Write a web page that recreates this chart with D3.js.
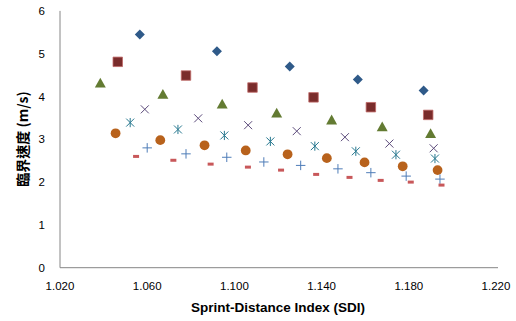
<!DOCTYPE html>
<html><head><meta charset="utf-8">
<script src="https://cdn.jsdelivr.net/npm/d3@7"></script>
<style>body{margin:0;background:#fff}svg{display:block}</style>
</head><body>
<svg id="c" width="516" height="321"></svg>
<script>
// ---- data ----
const xTicks = [1.020, 1.060, 1.100, 1.140, 1.180, 1.220];
const yTicks = [0, 1, 2, 3, 4, 5, 6];
const xLabel = "Sprint-Distance Index (SDI)";
const yLabel = "臨界速度 (m/s)";

const diamondSDI = [1.0566, 1.0920, 1.1254, 1.1566, 1.1868];
const diamondV   = [5.45, 5.06, 4.70, 4.40, 4.14];
const squareSDI  = [1.0465, 1.0778, 1.1083, 1.1363, 1.1626, 1.1889];
const squareV    = [4.81, 4.49, 4.21, 3.98, 3.75, 3.57];
const triSDI     = [1.0385, 1.0672, 1.0944, 1.1194, 1.1446, 1.1678, 1.1900];
const triV       = [4.31, 4.05, 3.82, 3.61, 3.45, 3.29, 3.13];
const xSDI       = [1.0589, 1.0834, 1.1063, 1.1286, 1.1507, 1.1711, 1.1914];
const xV         = [3.70, 3.49, 3.33, 3.19, 3.05, 2.90, 2.79];
const starSDI    = [1.0522, 1.0741, 1.0954, 1.1165, 1.1369, 1.1557, 1.1741, 1.1920];
const starV      = [3.39, 3.23, 3.09, 2.95, 2.84, 2.72, 2.64, 2.55];
const circleSDI  = [1.0455, 1.0660, 1.0863, 1.1052, 1.1244, 1.1424, 1.1597, 1.1772, 1.1932];
const circleV    = [3.14, 2.98, 2.86, 2.74, 2.65, 2.56, 2.46, 2.37, 2.28];
const plusSDI    = [1.0600, 1.0778, 1.0965, 1.1135, 1.1304, 1.1475, 1.1626, 1.1788, 1.1943];
const plusV      = [2.80, 2.66, 2.58, 2.47, 2.39, 2.31, 2.22, 2.14, 2.07];
const dashSDI    = [1.0549, 1.0720, 1.0891, 1.1062, 1.1214, 1.1375, 1.1528, 1.1671, 1.1809, 1.1950];
const dashV      = [2.60, 2.51, 2.42, 2.35, 2.28, 2.18, 2.11, 2.04, 2.00, 1.93];

// ---- custom marker shapes (relative to center) ----
const symDash = {draw(ctx, s){ const w = Math.sqrt(s); ctx.rect(-w/2, -w/4, w, w/2); }};
const symTimes = {draw(ctx, s){ const r = Math.sqrt(s)/2; ctx.moveTo(-r,-r); ctx.lineTo(r,r); ctx.moveTo(-r,r); ctx.lineTo(r,-r); }};
const symPlus = {draw(ctx, s){ const r = Math.sqrt(s)/2; ctx.moveTo(-r,0); ctx.lineTo(r,0); ctx.moveTo(0,-r); ctx.lineTo(0,r); }};
const symStar = {draw(ctx, s){ const r = Math.sqrt(s)/2; ctx.moveTo(-r,-r); ctx.lineTo(r,r); ctx.moveTo(-r,r); ctx.lineTo(r,-r); ctx.moveTo(0,-r*1.15); ctx.lineTo(0,r*1.15); }};
const symDiamond = {draw(ctx, s){ const r = Math.sqrt(s)/2; ctx.moveTo(0,-r); ctx.lineTo(r,0); ctx.lineTo(0,r); ctx.lineTo(-r,0); ctx.closePath(); }};
const symTri = {draw(ctx, s){ const r = Math.sqrt(s)/2; ctx.moveTo(0,-r); ctx.lineTo(r,r*0.8); ctx.lineTo(-r,r*0.8); ctx.closePath(); }};

const series = [
  {x: diamondSDI, y: diamondV, type: symDiamond, size: 100, fill: "#2F5A89", stroke: "none"},
  {x: squareSDI,  y: squareV,  type: d3.symbolSquare, size: 90, fill: "#7A2C2B", stroke: "#C06A68", sw: 0.8},
  {x: triSDI,     y: triV,     type: symTri, size: 120, fill: "#637B32", stroke: "none"},
  {x: xSDI,       y: xV,       type: symTimes, size: 64, fill: "none", stroke: "#5B4A7A", sw: 1},
  {x: starSDI,    y: starV,    type: symStar, size: 64, fill: "none", stroke: "#27788F", sw: 1},
  {x: circleSDI,  y: circleV,  type: d3.symbolCircle, size: 75, fill: "#B8621C", stroke: "none"},
  {x: plusSDI,    y: plusV,    type: symPlus, size: 90, fill: "none", stroke: "#4F7DB8", sw: 1},
  {x: dashSDI,    y: dashV,    type: symDash, size: 36, fill: "#C8585A", stroke: "none"}
];

// ---- layout ----
const svg = d3.select("#c");
const x = d3.scaleLinear().domain([1.020, 1.220]).range([60, 496]);
const y = d3.scaleLinear().domain([0, 6]).range([267.7, 10.9]);
const axisColor = "#868686";
const font = "'Liberation Sans', Arial, sans-serif";

// axes lines
svg.append("line").attr("x1", 60).attr("x2", 60).attr("y1", y(6)).attr("y2", y(0))
  .attr("stroke", axisColor).attr("stroke-width", 1);
svg.append("line").attr("x1", 60).attr("x2", 498).attr("y1", y(0)).attr("y2", y(0))
  .attr("stroke", axisColor).attr("stroke-width", 1);

// tick labels
svg.append("g").selectAll("text").data(yTicks).join("text")
  .attr("x", 45).attr("y", d => y(d)).attr("dy", "0.36em")
  .attr("text-anchor", "end").attr("font-family", font).attr("font-size", 11.5).attr("fill", "#000")
  .text(d => d);
svg.append("g").selectAll("text").data(xTicks).join("text")
  .attr("x", d => x(d)).attr("y", 286).attr("dy", "0.36em")
  .attr("text-anchor", "middle").attr("font-family", font).attr("font-size", 11.5).attr("fill", "#000")
  .text(d => d3.format(".3f")(d));

// axis titles
svg.append("text").attr("x", 278).attr("y", 307).attr("dy", "0.36em")
  .attr("text-anchor", "middle").attr("font-family", font).attr("font-weight", "bold")
  .attr("font-size", 13.5).text(xLabel);
svg.append("text").attr("transform", "translate(23,139) rotate(-90)").attr("dy", "0.36em")
  .attr("text-anchor", "middle").attr("font-family", "'Noto Sans CJK TC', 'Noto Sans CJK SC', sans-serif")
  .attr("font-weight", "bold").attr("font-size", 14).text(yLabel);

// markers
series.forEach(s => {
  const pts = s.x.map((v, i) => [v, s.y[i]]);
  svg.append("g").selectAll("path").data(pts).join("path")
    .attr("transform", d => `translate(${x(d[0])},${y(d[1])})`)
    .attr("d", d3.symbol().type(s.type).size(s.size))
    .attr("fill", s.fill).attr("stroke", s.stroke).attr("stroke-width", s.sw || 0);
});
</script>
</body></html>
